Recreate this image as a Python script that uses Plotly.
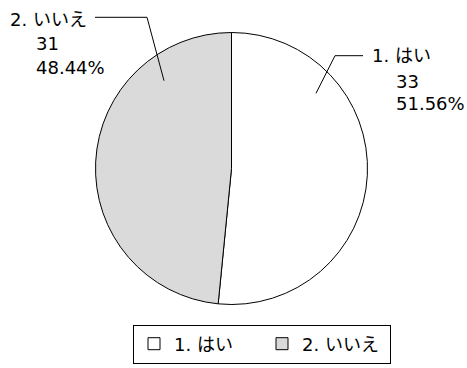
import plotly.graph_objects as go

# ---- data ----
labels = ["1. はい", "2. いいえ"]
values = [33, 31]
percents = ["51.56%", "48.44%"]
colors = ["#ffffff", "#dadada"]

W, H = 467, 368
FONT = "DejaVu Sans, Noto Sans CJK JP, sans-serif"

# pie geometry in pixels
cx, cy, r = 231.5, 168.5, 136.0

def px(x):
    return x / W

def py(y):
    return 1 - y / H

fig = go.Figure()
fig.add_trace(go.Pie(
    labels=labels,
    values=values,
    sort=False,
    direction="clockwise",
    rotation=0,
    marker=dict(colors=colors, line=dict(color="#000000", width=1)),
    textinfo="none",
    hoverinfo="label+value+percent",
    domain=dict(x=[px(cx - r), px(cx + r)], y=[py(cy + r), py(cy - r)]),
))

# leader lines (pixel anchors relative to the pie)
leaders = [
    [(cx + 84.5, cy - 75.2), (cx + 103.5, cy - 112.8), (363, cy - 112.8)],
    [(cx - 67.5, cy - 87.8), (cx - 84.5, cy - 151.2), (95, cy - 151.2)],
]
for pts in leaders:
    path = "M " + " L ".join(f"{px(x)},{py(y)}" for x, y in pts)
    fig.add_shape(type="path", path=path, xref="paper", yref="paper",
                  line=dict(color="#000000", width=1))

# label line positions: (x, y_center) for name, count, percent
label_pos = [
    [(370, 55.5), (394, 81.5), (394, 103)],
    [(8, 19.5), (34, 43), (34, 67.5)],
]
for i, pos in enumerate(label_pos):
    texts = [labels[i], str(values[i]), percents[i]]
    for t, (x, y) in zip(texts, pos):
        fig.add_annotation(text=t, x=px(x), y=py(y), xref="paper", yref="paper",
                           xanchor="left", yanchor="middle", showarrow=False,
                           font=dict(size=18, color="#000000", family=FONT))

fig.update_layout(
    width=W, height=H,
    margin=dict(l=0, r=0, t=0, b=0),
    paper_bgcolor="#ffffff",
    plot_bgcolor="#ffffff",
    font=dict(family=FONT, size=18, color="#000000"),
    showlegend=True,
    legend=dict(
        orientation="h",
        x=px(133), xanchor="left",
        y=py(324.5), yanchor="top",
        bordercolor="#000000", borderwidth=1,
        bgcolor="#ffffff",
        entrywidth=83, entrywidthmode="pixels",
        font=dict(size=18, family=FONT, color="#000000"),
        traceorder="normal",
    ),
)

fig.write_html("out.html")
